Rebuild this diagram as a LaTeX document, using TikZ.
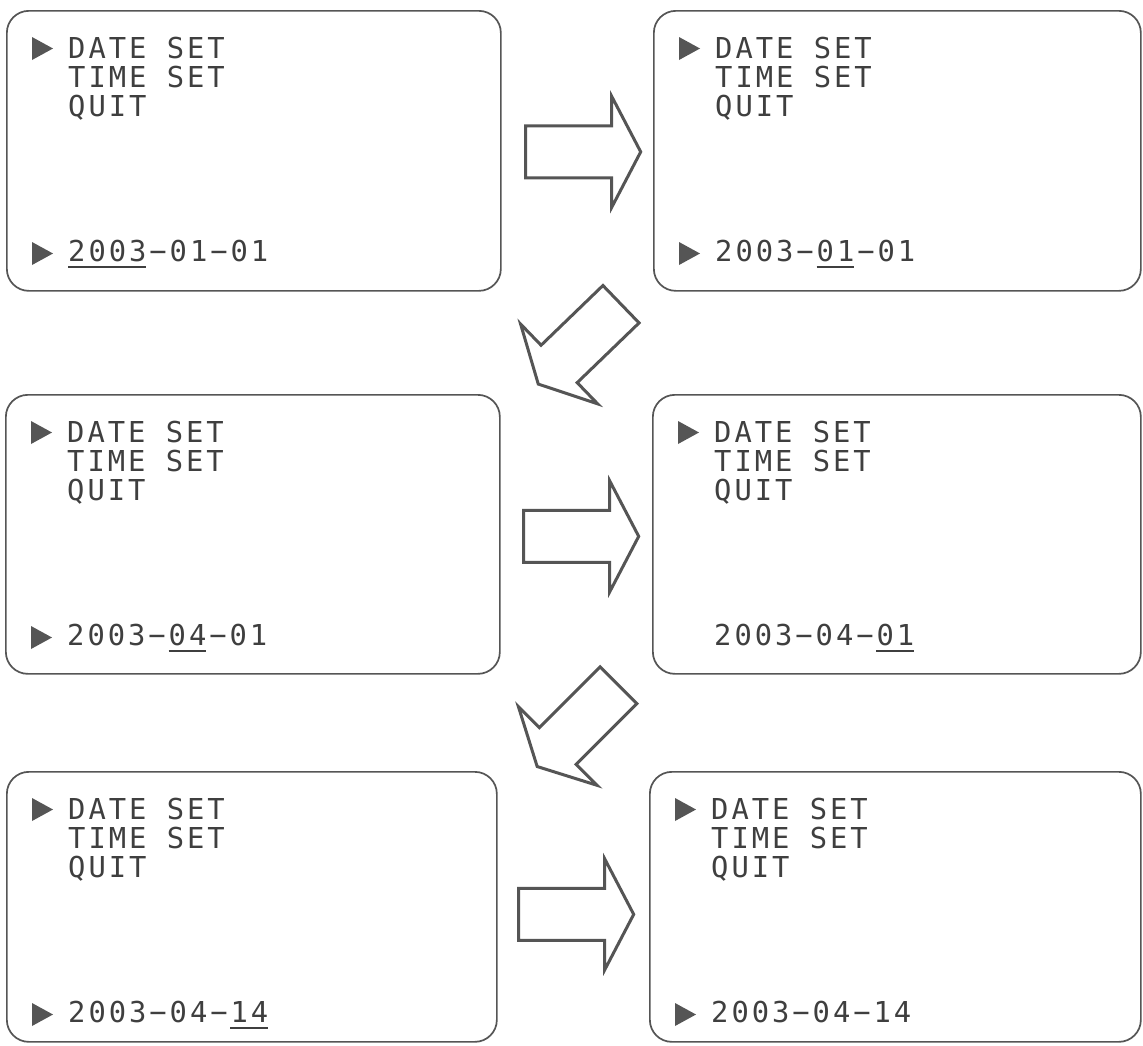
\documentclass[tikz,border=0pt]{standalone}
\usepackage{fontspec}
\newfontfamily\lcdfont{DejaVu Sans Mono}[LetterSpace=10.3]
\usetikzlibrary{calc}
\definecolor{ink}{HTML}{3F3F3F}
\definecolor{frame}{HTML}{555555}
\tikzset{
  screen/.style={draw=frame, line width=1.7pt, rounded corners=22pt, inner sep=0pt, anchor=north west},
  lcdtext/.style={inner sep=0pt, anchor=base west, text=ink, font=\lcdfont\fontsize{28.8}{29}\selectfont},
  pointer/.style={fill=frame},
  uline/.style={draw=ink, line width=1.6pt},
  blockarrow/.style={draw=frame, line width=3pt, line join=miter, fill=white},
}
% #1 name, #2 left, #3 top, #4 width, #5 height, #6 date, #7 pointer on date (1/0), #8 underline first char, #9 underline last char
\newcommand\lcdscreen[9]{%
  \node[screen, minimum width=#4, minimum height=#5] (#1) at (#2,#3) {};
  \fill[pointer] (#2+26,#3+27) -- (#2+47,#3+38.5) -- (#2+26,#3+50) -- cycle;
  \node[lcdtext] (#1-a) at (#2+62,#3+48.3) {DATE SET};
  \node[lcdtext] (#1-b) at (#2+62,#3+77.5) {TIME SET};
  \node[lcdtext] (#1-c) at (#2+62,#3+106.7) {QUIT};
  \node[lcdtext] (#1-d) at (#2+62,#3+251.5) {#6};
  \ifnum#7=1
    \fill[pointer] (#2+26,#3+232) -- (#2+47,#3+243.5) -- (#2+26,#3+255) -- cycle;
  \fi
  \ifnum#8<0\else
    \draw[uline] (#2+62+#8*20.3,#3+257) -- (#2+62+#9*20.3+17,#3+257);
  \fi
}
\newcommand\bigarrow[2]{%
  \draw[blockarrow, shift={#1}, rotate=#2]
    (0,-26) -- (86,-26) -- (86,-55.5) -- (115,0) -- (86,55.5) -- (86,26) -- (0,26) -- cycle;
}
\begin{document}
\begin{tikzpicture}[x=1pt,y=-1pt]
  \fill[white] (0,0) rectangle (1143,1045);
  \useasboundingbox (0,0) rectangle (1143,1045);

  \lcdscreen{s1}{6}{10}{494}{280}{2003−01−01}{1}{0}{3}
  \lcdscreen{s2}{653}{10}{487}{280}{2003−01−01}{1}{5}{6}
  \lcdscreen{s3}{5}{394}{494}{279}{2003−04−01}{1}{5}{6}
  \lcdscreen{s4}{652}{394}{488}{279}{2003−04−01}{0}{8}{9}
  \lcdscreen{s5}{6}{771}{490}{270}{2003−04−14}{1}{8}{9}
  \lcdscreen{s6}{649}{771}{491}{270}{2003−04−14}{1}{-1}{-1}

  \bigarrow{($(s1.east)+(24,1)$)}{0}
  \bigarrow{($(s2.south west)+(-32,12.5)$)}{224}
  \bigarrow{($(s3.east)+(23,2)$)}{0}
  \bigarrow{($(s4.south west)+(-33.5,10.5)$)}{225}
  \bigarrow{($(s5.east)+(21,7.5)$)}{0}
\end{tikzpicture}
\end{document}
